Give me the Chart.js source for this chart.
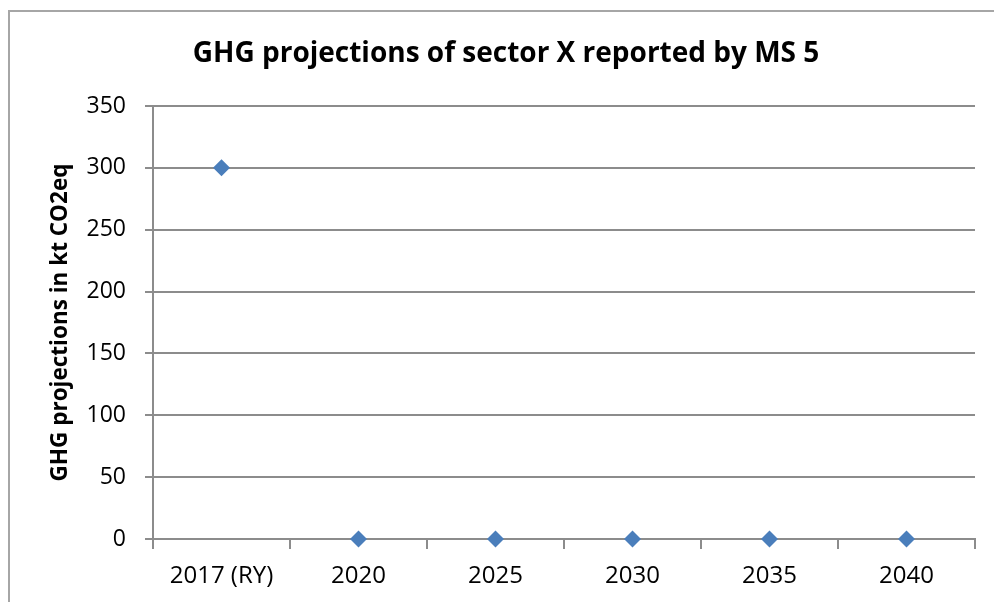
<!DOCTYPE html>
<html>
<head>
<meta charset="utf-8">
<script src="https://cdn.jsdelivr.net/npm/chart.js@4.4.1/dist/chart.umd.min.js"></script>
<style>
  html, body { margin: 0; padding: 0; background: #fff; overflow: hidden; }
  #frame { position: absolute; left: 8px; top: 10px; width: 1000px; height: 620px; border: 2px solid #a6a6a6; box-sizing: border-box; }
  #wrap { position: absolute; left: 0; top: 0; width: 994px; height: 602px; }
</style>
</head>
<body>
<div id="frame"></div>
<div id="wrap"><canvas id="c" width="994" height="602"></canvas></div>
<script>
const categories = ["2017 (RY)", "2020", "2025", "2030", "2035", "2040"];
const projections = [300, 0, 0, 0, 0, 0];
const yTicks = [0, 50, 100, 150, 200, 250, 300, 350];
const chartTitle = "GHG projections of sector X reported by MS 5";
const yAxisTitle = "GHG projections in kt CO2eq";

const FONT = "'Open Sans', 'DejaVu Sans', sans-serif";
const GRID = "#8c8c8c";

new Chart(document.getElementById("c"), {
  type: "line",
  data: {
    labels: categories,
    datasets: [{
      label: "MS 5",
      data: projections,
      showLine: false,
      clip: false,
      pointStyle: "rectRot",
      pointRadius: 8.5,
      pointHoverRadius: 8.5,
      pointBackgroundColor: "#4a7ebb",
      pointBorderColor: "#4a7ebb",
      pointBorderWidth: 0
    }]
  },
  options: {
    responsive: false,
    animation: false,
    devicePixelRatio: 1,
    layout: { padding: { left: 37, right: 19, top: 0, bottom: 13 } },
    plugins: {
      legend: { display: false },
      tooltip: { enabled: false },
      title: {
        display: true,
        text: chartTitle,
        color: "#000",
        font: { family: FONT, size: 28, weight: "bold", lineHeight: 1.2 },
        padding: { top: 37, bottom: 35.4 }
      }
    },
    scales: {
      x: {
        type: "category",
        offset: true,
        grid: {
          offset: true,
          drawOnChartArea: false,
          drawTicks: true,
          tickLength: 10,
          color: GRID,
          lineWidth: 2
        },
        border: { display: true, color: GRID, width: 2 },
        ticks: { color: "#000", font: { family: FONT, size: 24 }, padding: 13, maxRotation: 0 },
        afterFit: s => { s.height = 50; }
      },
      y: {
        min: 0,
        max: 350,
        afterBuildTicks: s => { s.ticks = yTicks.map(v => ({ value: v })); },
        grid: { color: GRID, lineWidth: 2, tickLength: 8 },
        border: { display: true, color: GRID, width: 2 },
        ticks: { color: "#000", font: { family: FONT, size: 23 }, padding: 19 },
        title: {
          display: true,
          text: yAxisTitle,
          color: "#000",
          font: { family: FONT, size: 22.5, weight: "bold" },
          padding: { top: 10, bottom: 0 }
        },
        afterFit: s => { s.width = 116; }
      }
    }
  }
});
</script>
</body>
</html>
